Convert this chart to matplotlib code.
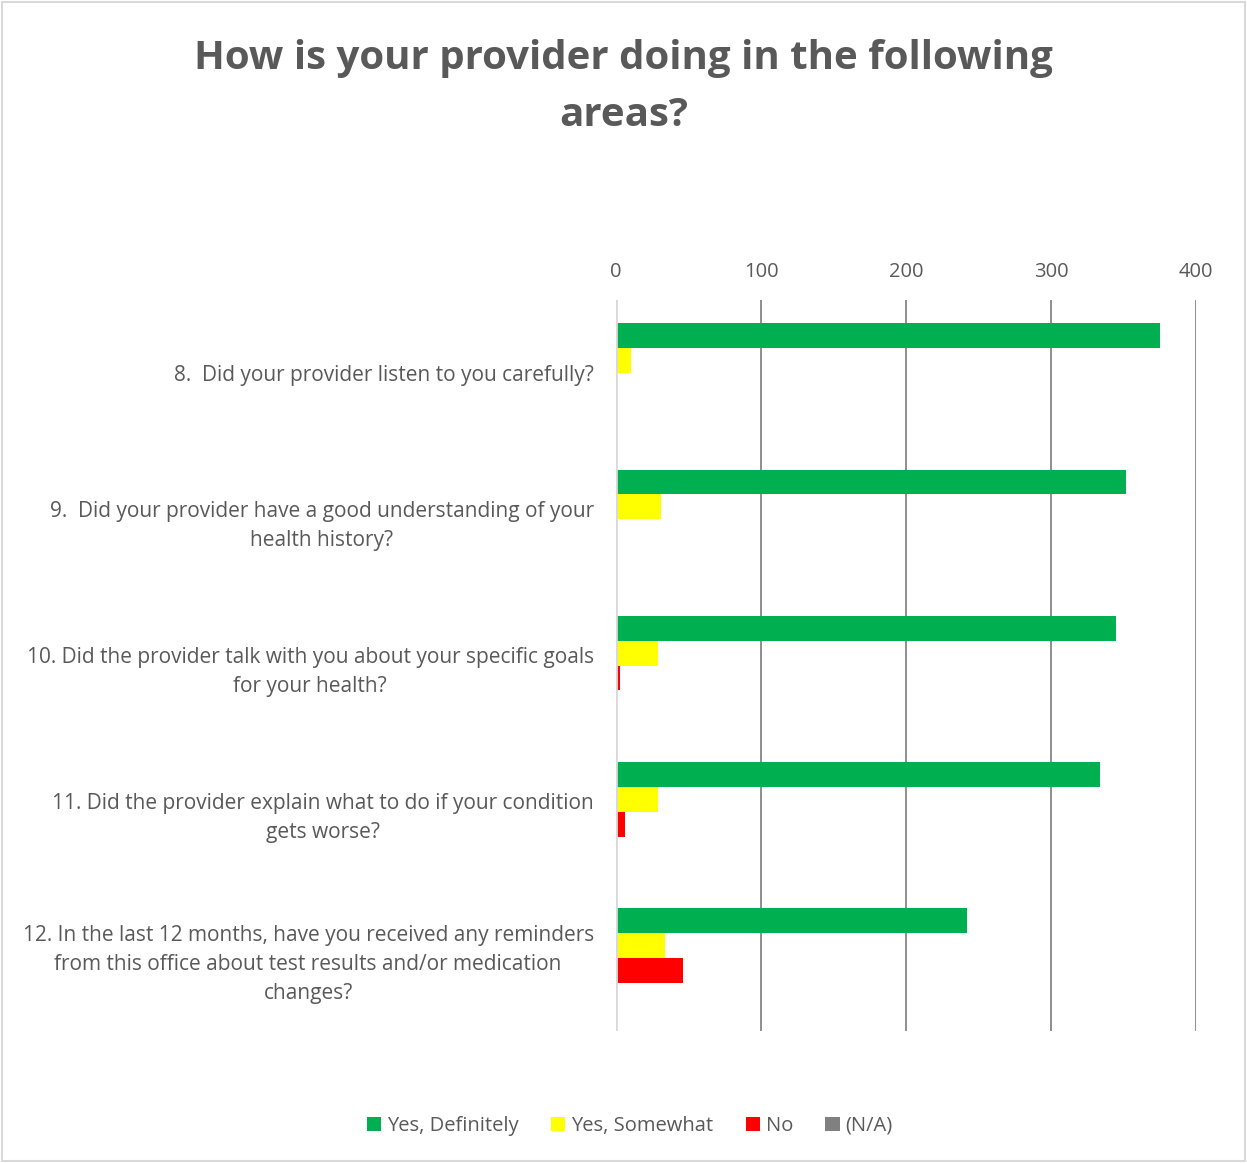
import matplotlib
matplotlib.use("Agg")
import matplotlib.pyplot as plt
import numpy as np
from matplotlib.patches import Rectangle

plt.rcParams['font.family'] = ['Open Sans', 'DejaVu Sans']

questions = [
    "8.  Did your provider listen to you carefully?",
    "9.  Did your provider have a good understanding of your\nhealth history?",
    "10. Did the provider talk with you about your specific goals\nfor your health?",
    "11. Did the provider explain what to do if your condition\ngets worse?",
    "12. In the last 12 months, have you received any reminders\nfrom this office about test results and/or medication\nchanges?",
]
series_names = ["Yes, Definitely", "Yes, Somewhat", "No", "(N/A)"]
yes_definitely = [375, 352, 345, 334, 242]
yes_somewhat = [10, 31, 29, 29, 34]
no = [0, 1, 3, 6, 46]
not_applicable = [0, 0, 0, 0, 0]
x_ticks = [0, 100, 200, 300, 400]

colors = ["#00b050", "#ffff00", "#ff0000", "#808080"]
text_color = "#595959"

W, H = 1247, 1163
fig = plt.figure(figsize=(W / 100, H / 100), dpi=100)
ax = fig.add_axes([616 / W, 1 - 1031 / H, (1196 - 616) / W, (1031 - 300) / H])

series = [yes_definitely, yes_somewhat, no, not_applicable]
y = np.arange(len(questions))
h = 0.17
for k, (name, vals, c) in enumerate(zip(series_names, series, colors)):
    ax.barh(y + (k - 1.5) * h, vals, height=h, color=c, label=name, zorder=3)

ax.set_xlim(0, 400)
ax.set_ylim(len(questions) - 0.5, -0.5)
ax.set_xticks(x_ticks)
ax.xaxis.tick_top()
ax.tick_params(axis='x', length=0, pad=13, labelsize=14.5, labelcolor=text_color)
ax.set_yticks(y)
ax.set_yticklabels(questions, multialignment='center')
ax.tick_params(axis='y', length=0, pad=16, labelsize=15, labelcolor=text_color)
for lbl in ax.get_yticklabels():
    lbl.set_linespacing(1.5)

ax.grid(axis='x', color='#868686', linewidth=1.3, zorder=0)
ax.axvline(0, color='#d9d9d9', linewidth=2, zorder=4)
for s in ax.spines.values():
    s.set_visible(False)

fig.text(0.5, 1 - 87 / H, "How is your provider doing in the following\nareas?",
         ha='center', va='center', fontsize=29, fontweight='bold',
         color=text_color, linespacing=1.61)

handles, labels = ax.get_legend_handles_labels()
fig.legend(handles, labels, loc='center', bbox_to_anchor=(630 / W, 1 - 1126 / H),
           ncol=4, frameon=False, fontsize=14.5, labelcolor=text_color,
           handlelength=0.7, handleheight=0.7, handletextpad=0.3, columnspacing=1.6)

fig.patches.append(Rectangle((0.002, 0.002), 0.996, 0.996, transform=fig.transFigure,
                             fill=False, edgecolor='#d9d9d9', linewidth=1.5))

fig.savefig("out.png", dpi=100, facecolor='white')
